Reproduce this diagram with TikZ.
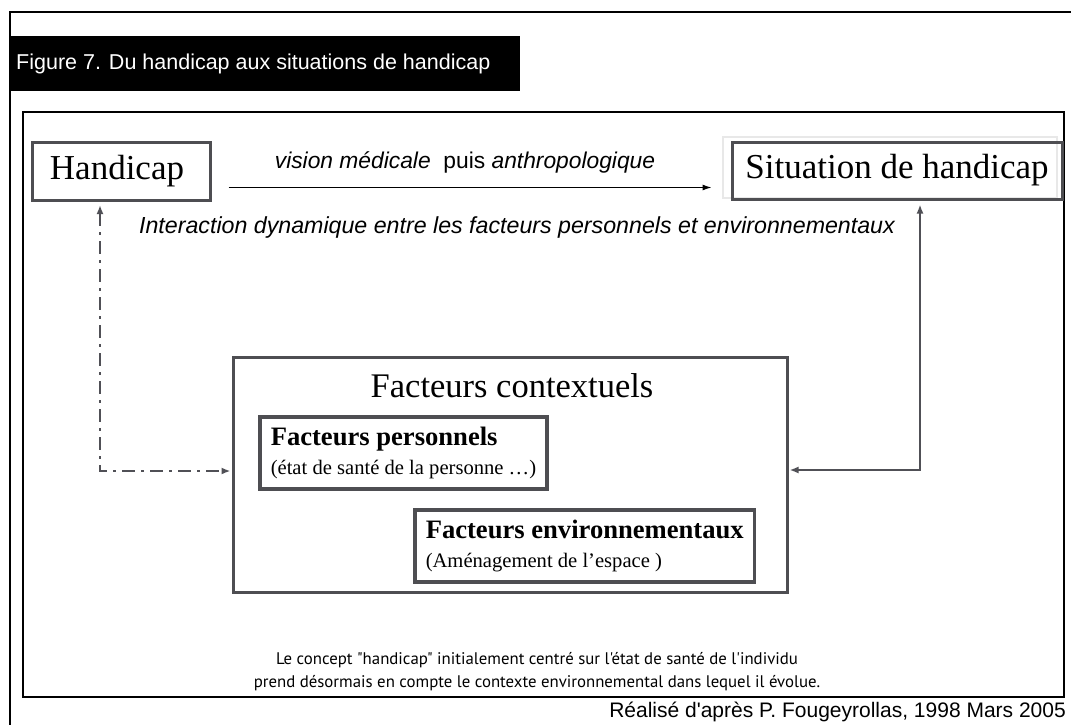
\documentclass[tikz,border=0pt]{standalone}
\usepackage{fontspec}
\setmainfont{Liberation Serif}
\newfontfamily\arialf[Ligatures=TeXOff]{Liberation Sans}
\newfontfamily\ptsans[Ligatures=TeXOff]{PT Sans}
\usetikzlibrary{arrows.meta}
\definecolor{boxgray}{RGB}{78,78,82}
\definecolor{arrgray}{RGB}{80,80,86}
\begin{document}
\begin{tikzpicture}[x=1pt,y=-1pt,
  bigbox/.style={draw=boxgray,line width=3pt,inner sep=0pt},
  subbox/.style={draw=boxgray,line width=3.5pt,inner xsep=11pt,inner ysep=4pt,align=left,anchor=north west,minimum height=72pt,font=\fontsize{20.6}{29}\selectfont},
  sanslabel/.style={font=\arialf\fontsize{22.8}{26}\selectfont},
  grayarrow/.style={draw=arrgray,line width=2.5pt,{Latex[length=9pt,width=7pt]}-{Latex[length=9pt,width=7pt]}},
  dashdotarrow/.style={grayarrow,line width=2.8pt,dash pattern=on 13pt off 6pt on 3pt off 6pt}]
\useasboundingbox (0,0) rectangle (1071,725);
\fill[white] (0,0) rectangle (1071,725);
% frames
\draw[line width=1.5pt] (10,760) -- (10,12) -- (1090,12);
\draw[line width=1.5pt] (23,112) rectangle (1064,697);
% title bar
\node[fill=black,minimum width=510pt,minimum height=55pt,anchor=north west,inner sep=0pt] (titlebar) at (10,36) {};
\node[anchor=west,text=white,font=\arialf\fontsize{21.5}{25}\selectfont,inner sep=0pt] (titletext) at (16,64) {Figure 7. Du handicap aux situations de handicap};
% top boxes
\node[bigbox,minimum width=178pt,minimum height=58pt] (hand) at (121,171) {\fontsize{35}{40}\selectfont Handicap\hspace*{8pt}};
\draw[gray!18,line width=2pt] (723,137) rectangle (1057,198);
\node[bigbox,minimum width=330pt,minimum height=57pt] (sit) at (897,170.5) {\fontsize{35}{40}\selectfont Situation de handicap};
% top arrow and labels
\draw[line width=1pt,-{Latex[length=9pt,width=6pt]}] ([xshift=17pt,yshift=-16.5pt]hand.east) -- ([xshift=-19pt,yshift=-17pt]sit.west);
\node[sanslabel] (vis) at (465,162) {\itshape vision médicale\ \ {\upshape puis} anthropologique};
\node[sanslabel,font=\arialf\fontsize{23.2}{27}\selectfont] (inter) at (517,227) {\itshape Interaction dynamique entre les facteurs personnels et environnementaux};
% contextual factors
\node[bigbox,minimum width=554pt,minimum height=235pt] (fc) at (510,474.5) {};
\node[font=\fontsize{34.5}{40}\selectfont] (fctitle) at (512,386) {Facteurs contextuels};
\node[subbox] (fp) at (258,415) {{\bfseries\fontsize{26.6}{29}\selectfont Facteurs personnels}\\(état de santé de la personne …)};
\node[subbox] (fe) at (413,508) {{\bfseries\fontsize{26.6}{29}\selectfont Facteurs environnementaux}\\(Aménagement de l’espace )};
% side arrows
\coordinate (dd) at (100,471);
\coordinate (ddtop) at (100,205);
\draw[dashdotarrow] (ddtop) -- (dd) -- ([xshift=-1pt]dd -| fc.west);
\coordinate (sa) at (920,470);
\draw[grayarrow] ([yshift=-4pt]sa |- sit.south) -- (sa) -- ([xshift=1pt]sa -| fc.east);
% bottom texts
\node[font=\ptsans\fontsize{16.8}{23}\selectfont,align=center] (note) at (537,672) {Le concept "handicap" initialement centré sur l'état de santé de l'individu\\prend désormais en compte le contexte environnemental dans lequel il évolue.};
\node[anchor=east,font=\arialf\fontsize{21}{25}\selectfont,inner sep=0pt] (credit) at (1066,712) {Réalisé d'après P. Fougeyrollas, 1998 Mars 2005};
\end{tikzpicture}
\end{document}
